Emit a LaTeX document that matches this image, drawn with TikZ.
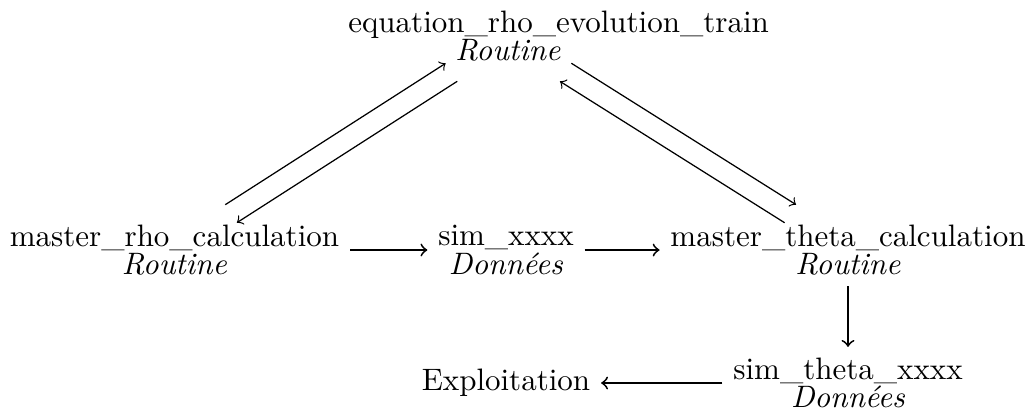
\documentclass[tikz,border=0pt]{standalone}
\usepackage{fontspec}
\begin{document}
\begin{tikzpicture}[x=0.3226pt,y=-0.3226pt,
  blk/.style={align=center, font=\fontsize{10pt}{9.2pt}\selectfont, inner sep=0.3333em},
  arr/.style={->},
  harr/.style={->, semithick}]
\useasboundingbox (0,0) rectangle (1031,414);
\node[blk] (T) at (508,36) {\makebox[103pt][l]{equation\_rho\_evolution\_train}\\\textit{Routine}};
\node[blk] (L) at (174.5,250) {master\_rho\_calculation\\\textit{Routine}};
\node[blk] (S) at (506,250) {sim\_xxxx\\\textit{Données}};
\node[blk] (M) at (848,250) {master\_theta\_calculation\\\textit{Routine}};
\node[blk] (ST) at (848,383) {sim\_theta\_xxxx\\\textit{Données}};
\node[blk] (E) at (506,383) {Exploitation};
\draw[harr] (L) -- (S);
\draw[harr] (S) -- (M);
\draw[harr] (M) -- (ST);
\draw[harr] (ST) -- (E);
\draw[arr, transform canvas={shift={(-5.8,-9.0)}}] (L) -- (T);
\draw[arr, transform canvas={shift={(5.8,9.0)}}] (T) -- (L);
\draw[arr, transform canvas={shift={(5.7,-9.05)}}] (T) -- (M);
\draw[arr, transform canvas={shift={(-5.7,9.05)}}] (M) -- (T);
\end{tikzpicture}
\end{document}
